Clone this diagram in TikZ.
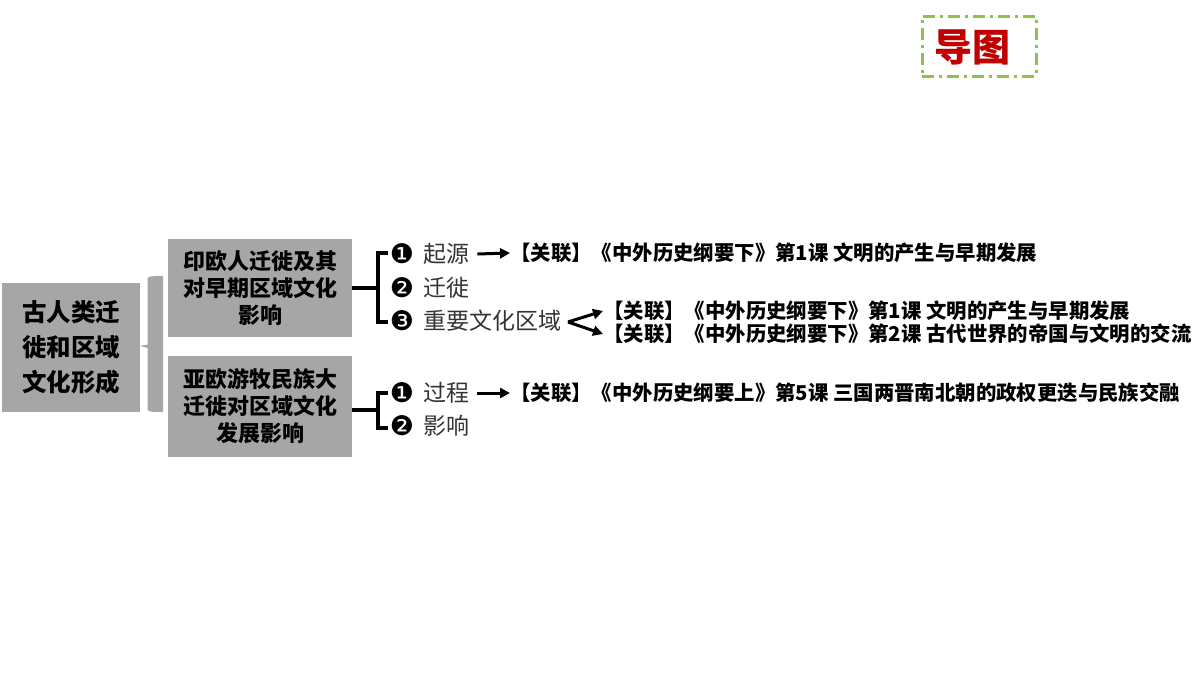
\documentclass[tikz,border=0pt]{standalone}
\usepackage{fontspec}
\setmainfont{Noto Sans CJK SC}
\newfontfamily\cjk{Noto Sans CJK SC}
\newfontfamily\dejavu{DejaVu Sans}
\usetikzlibrary{arrows.meta}
\definecolor{boxgray}{HTML}{A6A6A6}
\definecolor{dashgreen}{HTML}{92C04A}
\definecolor{titlered}{HTML}{C00000}
\definecolor{itemgray}{HTML}{333333}
\begin{document}
\begin{tikzpicture}[x=1pt,y=-1pt,
  gbox/.style={fill=boxgray, draw=none, inner sep=0pt, align=center,
    font=\cjk\bfseries\fontsize{22}{27}\selectfont},
  mainbox/.style={gbox, font=\cjk\bfseries\fontsize{24.5}{35}\selectfont},
  bk/.style={line width=4pt, black},
  num/.style={inner sep=0pt, font=\dejavu\fontsize{27}{27}\selectfont},
  item/.style={inner sep=0pt, anchor=west, text=itemgray, font=\cjk\fontsize{23}{23}\selectfont},
  link/.style={inner sep=0pt, anchor=west, font=\cjk\bfseries\fontsize{20.4}{21}\selectfont},
  arr/.style={line width=3pt, -{Triangle[length=10pt,width=10pt]}},
]
\useasboundingbox (0,0) rectangle (1200,675);

% title
\node[draw=dashgreen, line width=3pt, dash pattern=on 12pt off 5pt on 3pt off 5pt,
  minimum width=114pt, minimum height=60pt, inner sep=0pt] (titlebox) at (979,46) {};
\node[inner sep=0pt, text=titlered, font=\cjk\bfseries\fontsize{38}{38}\selectfont]
  (title) at (972,47) {导图};

% main box
\node[mainbox, minimum width=138pt, minimum height=129pt] (main) at (71,347.5)
  {古人类迁\\徙和区域\\文化形成};

% gray brace
\fill[boxgray] (147.5,279) .. controls (147.5,276.5) and (150,276) .. (163,276)
  -- (163,412) .. controls (150,412) and (147.5,411.5) .. (147.5,409) -- cycle;
\coordinate (bracetip) at (140,346);
\fill[boxgray] (148,344.5) -- (bracetip) -- (148,348) -- cycle;

% sub boxes
\node[gbox, minimum width=184pt, minimum height=98pt] (b1) at (260,288)
  {印欧人迁徙及其\\对早期区域文化\\影响};
\node[gbox, minimum width=184pt, minimum height=101pt] (b2) at (260,406.5)
  {亚欧游牧民族大\\迁徙对区域文化\\发展影响};

% bracket 1
\coordinate (k1m) at (378,288);
\coordinate (k1t) at (378,253);
\coordinate (k1b) at (378,322);
\coordinate (k1te) at (388,253);
\coordinate (k1be) at (388,322);
\draw[bk] (b1.east |- k1m) -- (k1m);
\draw[bk] (k1te) -- (k1t) -- (k1b) -- (k1be);

% bracket 2
\coordinate (k2m) at (378,410);
\coordinate (k2t) at (378,393);
\coordinate (k2b) at (378,428);
\coordinate (k2te) at (388,393);
\coordinate (k2be) at (388,428);
\draw[bk] (b2.east |- k2m) -- (k2m);
\draw[bk] (k2te) -- (k2t) -- (k2b) -- (k2be);

% items group 1
\node[num] (n11) at (402,254) {❶};
\node[num] (n12) at (402,288) {❷};
\node[num] (n13) at (402,321) {❸};
\node[item] (i11) at (423,254) {起源};
\node[item] (i12) at (423,288) {迁徙};
\node[item] (i13) at (423,321) {重要文化区域};

\node[link] (l11) at (510,253) {【关联】《中外历史纲要下》第1课\ 文明的产生与早期发展};
\node[link] (l131) at (603,311) {【关联】《中外历史纲要下》第1课\ 文明的产生与早期发展};
\node[link] (l132) at (603,334) {【关联】《中外历史纲要下》第2课\ 古代世界的帝国与文明的交流};

\draw[arr] ([xshift=8pt]i11.east) -- (l11.west);
\coordinate (fork) at (568,322);
\draw[arr] (fork) -- (l131.west);
\draw[arr] (fork) -- (l132.west);

% items group 2
\node[num] (n21) at (402,393) {❶};
\node[num] (n22) at (402,426) {❷};
\node[item] (i21) at (423,393) {过程};
\node[item] (i22) at (423,426) {影响};
\node[link] (l21) at (510,393) {【关联】《中外历史纲要上》第5课\ 三国两晋南北朝的政权更迭与民族交融};
\draw[arr] ([xshift=8pt]i21.east) -- (l21.west);
\end{tikzpicture}
\end{document}
